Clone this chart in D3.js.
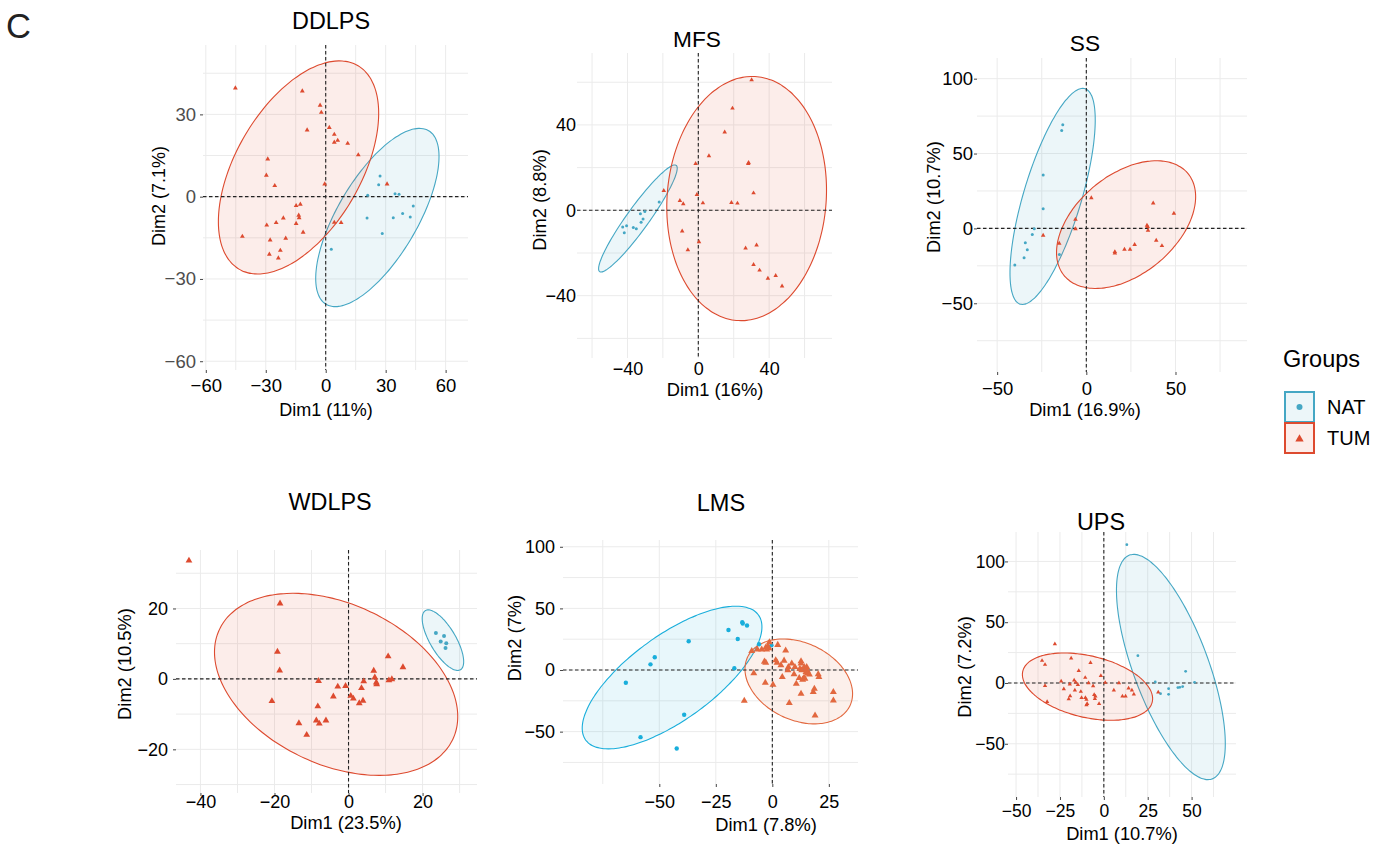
<!DOCTYPE html>
<html>
<head>
<meta charset="utf-8">
<script src="https://cdn.jsdelivr.net/npm/d3@7"></script>
<style>
  body { margin: 0; background: #fff; }
  text { font-family: "Liberation Sans", Arial, Helvetica, sans-serif; }
</style>
</head>
<body>
<div id="container"></div>
<script>
/* CONSTANTS */
const width = 1386, height = 847;

/* DATA */
// points are [Dim1, Dim2]
const ddlpsNAT = [[27.2,7.5],[26.5,4.3],[21,0.5],[34.7,1.1],[36.7,0.9],[43.8,-3.4],[38.5,-6.1],[33.8,-7.7],[20.7,-7.8],[42.3,-7.4],[28.3,-13.4],[2.8,-19.2]];
const ddlpsTUM = [[-45.2,39.6],[-11.7,38.5],[-2.8,33.3],[-2.2,30.7],[-9.3,24.3],[1.8,25.2],[4.3,22.7],[6,20.5],[4.3,19.8],[11,19.4],[16.3,15.2],[-29,13.7],[-29.7,7.8],[-25.5,4],[-0.5,4.6],[30.7,4.6],[-14.8,-3.3],[-12.7,-2.8],[-13.5,-6.8],[-13.3,-7.7],[-21.2,-7.8],[-24.8,-9.5],[-14.8,-9.8],[-29.5,-10.4],[4.3,-9.4],[7.7,-9.5],[-11.3,-13],[-41.7,-14.5],[-27.8,-15.8],[-20,-15.2],[-22.7,-19.6],[-28.2,-21],[-23.7,-22.4]];

const mfsNAT = [[-22.1,3.9],[-30.2,-0.6],[-32.7,-1.6],[-31.2,-4.1],[-32.3,-5.6],[-36.7,-8.1],[-35,-8.6],[-40.5,-7.2],[-42.7,-7.8],[-41.8,-10.5]];
const mfsTUM = [[30.1,61.1],[19.3,47.8],[14.9,36.6],[6,25.5],[28.2,21.9],[28.4,22.3],[-1.5,21.9],[-19.5,9.2],[-0.8,7.3],[31.2,8.1],[-10.4,4.5],[-8.5,3],[2.6,3.4],[18.7,3.6],[22.1,3.3],[-9.1,-9.8],[0.4,-14.8],[-5.9,-18.6],[26.7,-17.7],[32.9,-16.3],[31.2,-25.5],[34.6,-28.1],[39.3,-31.9],[43.7,-30.6],[47.3,-35.5]];

const ssNAT = [[-13.2,69.3],[-13.8,65.3],[-24.2,35.6],[-24.2,13.1],[-29.2,-0.2],[-30.3,-4],[-34.2,-9.6],[-33.1,-14.3],[-34.9,-19.6],[-40.1,-24.5],[-15.1,-17.4]];
const ssTUM = [[2.8,20.3],[37.5,16.9],[49.1,10],[-24.2,-4.7],[-6.1,6],[-6.1,-0.4],[-15.2,-10],[34,2],[34.4,1.1],[34.6,-1.3],[27.1,-10.9],[39.2,-8],[42.4,-11.6],[16,-15.6],[16,-16.5],[21.4,-14],[24.5,-14]];

const wdlpsNAT = [[23.6,13],[25.8,12.2],[24.9,10.6],[26.4,10.1],[26.2,8.8]];
const wdlpsTUM = [[-43.1,33.6],[-18.5,21.4],[-19.2,7.7],[-18.6,2.4],[-20.7,-6.3],[-8.1,-0.6],[10.7,6.4],[14.7,3.3],[6.8,2.3],[7.1,0.4],[4.1,-0.7],[10.9,-0.4],[11.7,-0.1],[7.5,-1],[7.6,-1.5],[-2.9,-2.2],[-0.8,-2],[3.5,-2.6],[-4.1,-5],[0.6,-4.8],[1.3,-5.6],[3.9,-6.2],[2.9,-6.9],[-8.3,-7.8],[-13.4,-12.6],[-8.7,-11.8],[-7.9,-12.7],[-6.1,-11.8],[-11.3,-15.9]];

const lmsNAT = [[-19.4,32.5],[-13.3,38.8],[-13.1,37.7],[-11.2,36.1],[-15.3,25.2],[-37,23.3],[-52,10.3],[-53.9,4.6],[-16.8,1.4],[-64.8,-10.3],[-39,-36.3],[-58.3,-54.5],[-42.3,-63.7],[-5.9,20.9],[-0.4,20.1]];
const lmsTUM = [[-12.4,-24.9],[-9.1,15.5],[-6.6,16.6],[-4.7,16.6],[-2.9,18.2],[-2,19.3],[-1.5,17.7],[-2.5,16.6],[-1.3,22.5],[2.4,20.4],[5.9,15.8],[-3.5,6.8],[-2.9,6],[1.5,7.9],[2.1,6],[5.2,7.6],[3.8,3.8],[-8.2,-2.7],[4.4,-5.7],[-3.1,-10.3],[0.3,-11.9],[7.1,2.4],[6.9,-0.2],[10,2.4],[9.6,-3.5],[10.6,-11.1],[7.5,-26.8],[12.7,7.1],[12.7,5.2],[12.2,1.1],[13,-0.2],[14.1,2.4],[15.2,2.4],[15,0.3],[15.5,-0.5],[14.9,-1.6],[15.5,-2.9],[11.9,-6.5],[13.4,-7.8],[14,-6.2],[12.7,-19.2],[18.6,-15.2],[18.1,-17.9],[18.9,-36.9],[20.3,-3.5],[20.6,-5.7],[27,-17.9],[27,-24.7],[16.4,-3.7],[14.4,-7],[8.6,5.2]];

const upsNAT = [[13.1,113.8],[19.4,22.5],[29.3,0.8],[32.3,-8.8],[36.9,-4.7],[36.9,-9.3],[42.2,-3.8],[43.3,-3.6],[44.9,-3],[46.6,9.6],[51.7,0.5]];
const upsTUM = [[-27.9,32.1],[-35.2,18.4],[-33.5,15.1],[-18.6,20.3],[-7.6,16.7],[-1.7,6],[-24.3,1.4],[-33.5,-2.2],[-32.3,-15.4],[-22.8,-4.9],[-19.4,-1.1],[-16.9,2.2],[-16,0.5],[-14.3,10.1],[-16.5,-6],[-14.8,-1.4],[-19.2,-10.7],[-20,-13.2],[-13.1,-7.1],[-12.7,-12.1],[-10.6,4.4],[-8.7,0],[-10.5,-12.1],[-9.9,-13.7],[-9.5,-17],[-9.9,-18.1],[-6.1,-2.5],[-5.5,-9.6],[-4.8,-11],[-5.1,-12.9],[0.8,0.3],[-2.7,-17],[8.6,0],[5.7,-6],[10.6,-11],[12.4,-11],[14.1,-4.4],[16,-6],[17.1,-9.3],[31,-7.7]];

// ellipses: [xmin, xmax, ymin, ymax, Dim2 at the rightmost point]
const ddlpsEllNAT = [-5, 56.7, -40.1, 24.9, 14.6];
const ddlpsEllTUM = [-53.7, 26.5, -28.2, 49.5, 30.4];
const mfsEllNAT = [-56.3, -11.9, -28.9, 21.25, 19.7];
const mfsEllTUM = [-17.8, 72.4, -51.7, 62.7, 9.5];
const ssEllNAT = [-42.8, 5.0, -50.8, 93.5, 72.4];
const ssEllTUM = [-16.7, 61.3, -40.1, 45.2, 21.2];
const wdlpsEllNAT = [19.9, 31.1, 2.4, 19.6, 4.9];
const wdlpsEllTUM = [-36.2, 29.5, -27.4, 24.3, -10.7];
const lmsEllNAT = [-84.1, -4.6, -64.0, 51.8, 35.0];
const lmsEllTUM = [-12.1, 35.5, -43.7, 25.2, -19.3];
const upsEllNAT = [7.2, 69.2, -79.5, 105.8, -49.9];
const upsEllTUM = [-46.4, 27.8, -30.7, 24.7, -12.9];

// titles and axis labels
const panelTitles = ["DDLPS", "MFS", "SS", "WDLPS", "LMS", "UPS"];
const dim1Labels = ["Dim1 (11%)", "Dim1 (16%)", "Dim1 (16.9%)", "Dim1 (23.5%)", "Dim1 (7.8%)", "Dim1 (10.7%)"];
const dim2Labels = ["Dim2 (7.1%)", "Dim2 (8.8%)", "Dim2 (10.7%)", "Dim2 (10.5%)", "Dim2 (7%)", "Dim2 (7.2%)"];

// tick labels and grid breaks
const ddlpsXTicks = [-60, -30, 0, 30, 60], ddlpsYTicks = [-60, -30, 0, 30];
const mfsXTicks = [-40, 0, 40], mfsYTicks = [-40, 0, 40];
const ssXTicks = [-50, 0, 50], ssYTicks = [-50, 0, 50, 100];
const wdlpsXTicks = [-40, -20, 0, 20], wdlpsYTicks = [-20, 0, 20];
const lmsXTicks = [-50, -25, 0, 25], lmsYTicks = [-50, 0, 50, 100];
const upsXTicks = [-50, -25, 0, 25, 50], upsYTicks = [-50, 0, 50, 100];

const ddlpsXGrid = [-60,-45,-30,-15,0,15,30,45,60], ddlpsYGrid = [-60,-45,-30,-15,0,15,30,45];
const mfsXGrid = [-60,-40,-20,0,20,40,60], mfsYGrid = [-60,-40,-20,0,20,40,60];
const ssXGrid = [-50,-25,0,25,50,75], ssYGrid = [-75,-50,-25,0,25,50,75,100];
const wdlpsXGrid = [-40,-30,-20,-10,0,10,20,30], wdlpsYGrid = [-30,-20,-10,0,10,20,30];
const lmsXGrid = [-75,-50,-25,0,25], lmsYGrid = [-75,-50,-25,0,25,50,75,100];
const upsXGrid = [-50,-37.5,-25,-12.5,0,12.5,25,37.5,50,62.5], upsYGrid = [-75,-50,-25,0,25,50,75,100];

const groups = ["NAT", "TUM"];

/* LAYOUT */
const teal = "#45A7C4", red = "#DD4A2F";
const tealB = "#19AEDB", redB = "#E2683F";

const panels = [
  { i: 0, nat: ddlpsNAT, tum: ddlpsTUM, eN: ddlpsEllNAT, eT: ddlpsEllTUM, xT: ddlpsXTicks, yT: ddlpsYTicks, xG: ddlpsXGrid, yG: ddlpsYGrid,
    box: [203, 45, 468, 370], xDom: [-61.4, 71.2], yDom: [-63.2, 55.3],
    title: [331, 29, 23.4], xLabBase: 392, yLabGap: 7, fs: 18.5, ticks: true, yCol: "#4d4d4d",
    xTitle: [326, 416, 18], yTitle: [165, 196, 18], tri: 10, r: 1.5, cN: teal, cT: red },
  { i: 1, nat: mfsNAT, tum: mfsTUM, eN: mfsEllNAT, eT: mfsEllTUM, xT: mfsXTicks, yT: mfsYTicks, xG: mfsXGrid, yG: mfsYGrid,
    box: [577, 53, 832, 358], xDom: [-68.5, 75.5], yDom: [-69.2, 73.7],
    title: [697, 47, 22.7], xLabBase: 375, yLabGap: 1, fs: 18, ticks: false, yCol: "#000",
    xTitle: [715, 396, 18.3], yTitle: [546, 200, 18.3], tri: 9, r: 1.5, cN: teal, cT: red },
  { i: 2, nat: ssNAT, tum: ssTUM, eN: ssEllNAT, eT: ssEllTUM, xT: ssXTicks, yT: ssYTicks, xG: ssXGrid, yG: ssYGrid,
    box: [977, 58, 1247, 372], xDom: [-61.3, 90.1], yDom: [-95.9, 113.8],
    title: [1085, 51, 22.7], xLabBase: 395, yLabGap: 4, fs: 18.5, ticks: true, yCol: "#000",
    xTitle: [1085, 416, 18.3], yTitle: [940, 197, 18.3], tri: 9, r: 1.5, cN: teal, cT: red },
  { i: 3, nat: wdlpsNAT, tum: wdlpsTUM, eN: wdlpsEllNAT, eT: wdlpsEllTUM, xT: wdlpsXTicks, yT: wdlpsYTicks, xG: wdlpsXGrid, yG: wdlpsYGrid,
    box: [176, 550, 477, 793], xDom: [-46.6, 34.7], yDom: [-32.4, 36.6],
    title: [330, 510, 23.4], xLabBase: 808, yLabGap: 8, fs: 18, ticks: true, yCol: "#000",
    xTitle: [346, 829, 18.3], yTitle: [131, 664, 18.3], tri: 20, r: 2, cN: teal, cT: red },
  { i: 4, nat: lmsNAT, tum: lmsTUM, eN: lmsEllNAT, eT: lmsEllTUM, xT: lmsXTicks, yT: lmsYTicks, xG: lmsXGrid, yG: lmsYGrid,
    box: [563, 540, 858, 784], xDom: [-92.6, 37.9], yDom: [-92.5, 105.5],
    title: [721, 511, 23.6], xLabBase: 808, yLabGap: 8, fs: 18, ticks: true, yCol: "#000",
    xTitle: [766, 831, 18.3], yTitle: [521, 638, 18.3], tri: 21, r: 2.2, cN: tealB, cT: redB },
  { i: 5, nat: upsNAT, tum: upsTUM, eN: upsEllNAT, eT: upsEllTUM, xT: upsXTicks, yT: upsYTicks, xG: upsXGrid, yG: upsYGrid,
    box: [1008, 532, 1236, 797], xDom: [-54.6, 75.3], yDom: [-93.8, 124.2],
    title: [1101, 530, 23.4], xLabBase: 817, yLabGap: 3, fs: 17.5, ticks: true, yCol: "#000",
    xTitle: [1122, 839.5, 18.3], yTitle: [971, 667, 18.3], tri: 8, r: 1.4, cN: teal, cT: red }
];

let svg = d3.select("#container")
  .append("svg")
  .attr("width", width)
  .attr("height", height);

svg.append("rect").attr("width", width).attr("height", height).attr("fill", "#fff");

// panel letter
svg.append("text").attr("x", 6).attr("y", 38).attr("font-size", 34.5).attr("fill", "#222").text("C");

// ellipse outline from its extents
function ellipsePoints(e) {
  const [x0, x1, y0, y1, yR] = e;
  const cx = (x0 + x1) / 2, a = (x1 - x0) / 2;
  const cy = (y0 + y1) / 2, b = (y1 - y0) / 2;
  const phi = Math.acos(Math.max(-1, Math.min(1, (yR - cy) / b)));
  return d3.range(0, 360, 3).map(deg => {
    const t = deg * Math.PI / 180;
    return [cx + a * Math.cos(t), cy + b * Math.cos(t - phi)];
  });
}

function drawPanel(p) {
  const g = svg.append("g");
  const [L, T, R, B] = p.box;
  const x = d3.scaleLinear().domain(p.xDom).range([L, R]);
  const y = d3.scaleLinear().domain(p.yDom).range([B, T]);

  // grid
  g.selectAll("line.gx").data(p.xG).join("line").attr("class", "gx")
    .attr("x1", d => x(d)).attr("x2", d => x(d)).attr("y1", T).attr("y2", B)
    .attr("stroke", "#ebebeb").attr("stroke-width", 1);
  g.selectAll("line.gy").data(p.yG).join("line").attr("class", "gy")
    .attr("y1", d => y(d)).attr("y2", d => y(d)).attr("x1", L).attr("x2", R)
    .attr("stroke", "#ebebeb").attr("stroke-width", 1);

  // ellipses
  const path = d3.line().x(d => x(d[0])).y(d => y(d[1])).curve(d3.curveCardinalClosed);
  g.selectAll("path.ell").data([[p.eN, p.cN], [p.eT, p.cT]]).join("path").attr("class", "ell")
    .attr("d", d => path(ellipsePoints(d[0])))
    .attr("fill", d => d[1]).attr("fill-opacity", 0.1)
    .attr("stroke", d => d[1]).attr("stroke-width", 1.1);

  // zero lines
  g.append("line").attr("x1", L).attr("x2", R).attr("y1", y(0)).attr("y2", y(0))
    .attr("stroke", "#222").attr("stroke-width", 1.1).attr("stroke-dasharray", "3.5,2.5");
  g.append("line").attr("x1", x(0)).attr("x2", x(0)).attr("y1", T).attr("y2", B)
    .attr("stroke", "#222").attr("stroke-width", 1.1).attr("stroke-dasharray", "3.5,2.5");

  // points
  g.selectAll("circle.nat").data(p.nat).join("circle").attr("class", "nat")
    .attr("cx", d => x(d[0])).attr("cy", d => y(d[1])).attr("r", p.r).attr("fill", p.cN);
  const tri = d3.symbol().type(d3.symbolTriangle).size(p.tri);
  g.selectAll("path.tum").data(p.tum).join("path").attr("class", "tum")
    .attr("transform", d => `translate(${x(d[0])},${y(d[1])})`)
    .attr("d", tri).attr("fill", p.cT);

  // axes
  const tk = p.ticks ? 3 : 0;
  const xAxis = d3.axisBottom(x).tickValues(p.xT).tickSize(tk)
    .tickPadding(p.xLabBase - B - 0.71 * p.fs - tk);
  const yAxis = d3.axisLeft(y).tickValues(p.yT).tickSize(tk)
    .tickPadding(p.yLabGap - tk);
  const gx = g.append("g").attr("transform", `translate(0,${B})`).call(xAxis);
  const gy = g.append("g").attr("transform", `translate(${L},0)`).call(yAxis);
  [gx, gy].forEach(a => {
    a.select(".domain").remove();
    a.selectAll("line").attr("stroke", "#444");
    a.selectAll("text").attr("font-size", p.fs)
      .attr("font-family", "'Liberation Sans', Arial, sans-serif");
  });
  gx.selectAll("text").attr("fill", "#000");
  gy.selectAll("text").attr("fill", p.yCol);

  // titles
  g.append("text").attr("x", p.title[0]).attr("y", p.title[1]).attr("font-size", p.title[2])
    .attr("text-anchor", "middle").attr("fill", "#000").text(panelTitles[p.i]);
  g.append("text").attr("x", p.xTitle[0]).attr("y", p.xTitle[1]).attr("font-size", p.xTitle[2])
    .attr("text-anchor", "middle").attr("fill", "#000").text(dim1Labels[p.i]);
  g.append("text").attr("transform", `translate(${p.yTitle[0]},${p.yTitle[1]}) rotate(-90)`)
    .attr("font-size", p.yTitle[2]).attr("text-anchor", "middle").attr("fill", "#000")
    .text(dim2Labels[p.i]);
}

panels.forEach(drawPanel);

// legend
const lg = svg.append("g");
lg.append("text").attr("x", 1283).attr("y", 367).attr("font-size", 23.5).attr("fill", "#000").text("Groups");
const keys = lg.selectAll("g.key").data(groups).join("g").attr("class", "key")
  .attr("transform", (d, i) => `translate(1285,${392 + i * 31})`);
keys.append("rect").attr("x", 0).attr("y", 0).attr("width", 29).attr("height", 30)
  .attr("fill", (d, i) => i ? red : teal).attr("fill-opacity", 0.1)
  .attr("stroke", (d, i) => i ? red : teal).attr("stroke-width", 2);
keys.filter((d, i) => i === 0).append("circle").attr("cx", 14.5).attr("cy", 15).attr("r", 3).attr("fill", teal);
keys.filter((d, i) => i === 1).append("path")
  .attr("transform", "translate(14.5,16)")
  .attr("d", d3.symbol().type(d3.symbolTriangle).size(30)).attr("fill", red);
keys.append("text").attr("x", 42).attr("y", 21.5).attr("font-size", 20).attr("fill", "#000").text(d => d);
</script>
</body>
</html>
